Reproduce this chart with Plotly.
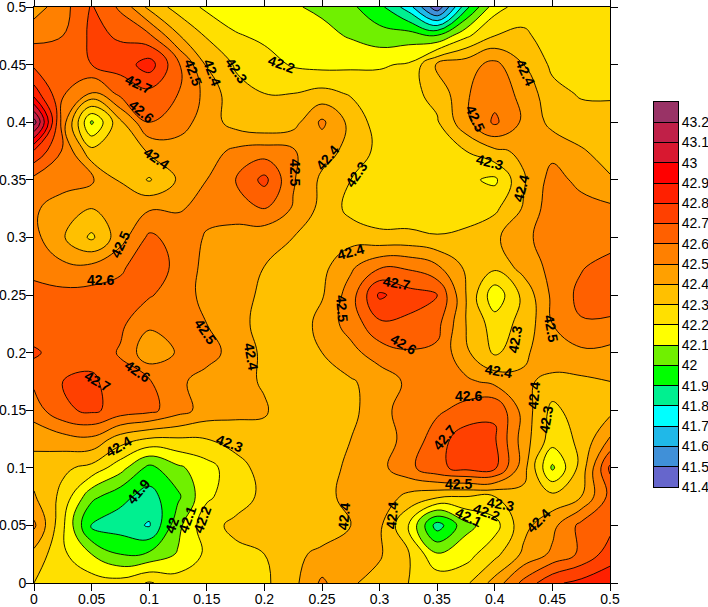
import plotly.graph_objects as go

x_vals = [i * 0.025 for i in range(21)]
y_vals = [i * 0.025 for i in range(21)]

r000 = [42.30,42.26,42.25,42.24,42.31,42.25,42.28,42.26,42.28,42.37,42.52,42.41,42.37,42.30,42.27,42.28,42.44,42.63,42.78,42.83,42.87]
r025 = [42.37,42.22,42.10,42.00,42.02,42.11,42.22,42.28,42.30,42.38,42.42,42.44,42.41,42.31,42.11,42.16,42.27,42.42,42.52,42.62,42.75]
r050 = [42.52,42.22,41.88,41.85,41.79,42.07,42.27,42.32,42.35,42.37,42.35,42.40,42.42,42.20,41.85,42.07,42.16,42.37,42.47,42.63,42.67]
r075 = [42.41,42.27,42.03,41.93,41.86,41.98,42.18,42.26,42.32,42.37,42.36,42.44,42.47,42.37,42.32,42.30,42.30,42.37,42.33,42.40,42.63]
r100 = [42.36,42.32,42.27,42.14,41.97,42.08,42.16,42.26,42.34,42.36,42.34,42.43,42.47,42.57,42.68,42.73,42.72,42.44,42.08,42.34,42.72]
r125 = [42.43,42.46,42.48,42.35,42.29,42.29,42.30,42.34,42.37,42.35,42.36,42.40,42.47,42.52,42.66,42.75,42.71,42.45,42.25,42.32,42.51]
r150 = [42.55,42.68,42.72,42.66,42.63,42.54,42.46,42.43,42.41,42.34,42.34,42.37,42.47,42.54,42.58,42.64,42.69,42.46,42.27,42.36,42.37]
r175 = [42.62,42.70,42.72,42.64,42.61,42.52,42.46,42.43,42.39,42.33,42.36,42.39,42.44,42.52,42.53,42.52,42.47,42.42,42.37,42.38,42.40]
r200 = [42.72,42.64,42.66,42.59,42.43,42.51,42.54,42.46,42.38,42.33,42.40,42.47,42.55,42.59,42.58,42.42,42.28,42.38,42.47,42.48,42.47]
r225 = [42.62,42.63,42.63,42.62,42.52,42.52,42.50,42.43,42.37,42.32,42.44,42.54,42.68,42.68,42.63,42.40,42.25,42.33,42.50,42.59,42.58]
r250 = [42.62,42.63,42.64,42.64,42.61,42.55,42.47,42.42,42.39,42.32,42.39,42.55,42.82,42.74,42.70,42.40,42.13,42.33,42.52,42.63,42.66]
r275 = [42.58,42.52,42.52,42.58,42.67,42.57,42.47,42.44,42.40,42.34,42.37,42.48,42.58,42.58,42.51,42.38,42.33,42.44,42.53,42.59,42.64]
r300 = [42.53,42.41,42.28,42.46,42.62,42.56,42.49,42.45,42.43,42.40,42.33,42.36,42.33,42.33,42.31,42.33,42.38,42.48,42.54,42.58,42.55]
r325 = [42.52,42.43,42.40,42.47,42.49,42.49,42.53,42.56,42.60,42.49,42.37,42.27,42.23,42.23,42.22,42.24,42.28,42.41,42.56,42.54,42.52]
r350 = [42.57,42.56,42.52,42.39,42.29,42.41,42.50,42.60,42.73,42.51,42.38,42.30,42.24,42.23,42.22,42.22,42.18,42.39,42.54,42.47,42.41]
r375 = [42.79,42.59,42.33,42.35,42.41,42.45,42.46,42.52,42.55,42.51,42.44,42.37,42.27,42.25,42.26,42.30,42.38,42.42,42.47,42.41,42.36]
r400 = [43.25,42.55,42.08,42.38,42.60,42.55,42.45,42.36,42.31,42.36,42.52,42.37,42.25,42.24,42.29,42.47,42.62,42.48,42.37,42.34,42.33]
r425 = [42.85,42.61,42.48,42.63,42.67,42.60,42.47,42.33,42.30,42.30,42.33,42.29,42.25,42.27,42.33,42.49,42.56,42.47,42.33,42.29,42.29]
r450 = [42.68,42.64,42.70,42.74,42.85,42.62,42.39,42.29,42.24,42.19,42.17,42.18,42.19,42.21,42.41,42.46,42.53,42.40,42.28,42.24,42.22]
r475 = [42.57,42.60,42.72,42.69,42.62,42.41,42.29,42.21,42.18,42.15,42.13,42.09,42.04,42.05,42.01,42.18,42.30,42.32,42.25,42.23,42.22]
r500 = [42.45,42.56,42.71,42.58,42.37,42.26,42.18,42.14,42.12,42.11,42.08,42.02,41.93,41.75,41.42,41.87,42.16,42.25,42.25,42.25,42.25]
z_rows = [r000,r025,r050,r075,r100,r125,r150,r175,r200,r225,r250,r275,r300,r325,r350,r375,r400,r425,r450,r475,r500]

band_colors = ["#6666CC","#4090D8","#20B8E8","#00FFFF","#00F090","#00FF00","#70F000","#FFFF00","#FFE000","#FFC000",
               "#FFA000","#FF8000","#FF6000","#FF4000","#FF2000","#FF0000","#D81830","#C02048","#993366"]
tick_vals = [0,0.05,0.1,0.15,0.2,0.25,0.3,0.35,0.4,0.45,0.5]
tick_text = ["0","0.05","0.1","0.15","0.2","0.25","0.3","0.35","0.4","0.45","0.5"]
bar_levels = [41.4,41.5,41.6,41.7,41.8,41.9,42.0,42.1,42.2,42.3,42.4,42.5,42.6,42.7,42.8,42.9,43.0,43.1,43.2]
bar_text = ["41.4","41.5","41.6","41.7","41.8","41.9","42","42.1","42.2","42.3","42.4","42.5","42.6","42.7","42.8","42.9","43","43.1","43.2"]

labels = [("42.7",138,84,25),("42.6",141,111,40),("42.5",193,72,70),("42.4",212,72,70),("42.3",236,70,55),("42.2",281,64,20),
          ("42.4",156,158,35),("42.5",295,172,90),("42.4",327,158,-50),("42.3",356,175,-55),("42.4",525,72,65),("42.5",475,118,65),
          ("42.3",489,162,15),("42.4",521,189,-75),("42.5",120,245,-65),("42.6",100,280,0),("42.7",97,381,30),("42.6",137,371,35),
          ("42.5",205,331,55),("42.4",251,356,80),("42.4",350,252,-15),("42.7",396,283,10),("42.5",342,308,85),("42.6",403,344,30),
          ("42.3",515,340,-80),("42.5",551,328,80),("42.4",498,371,10),("42.4",534,396,-85),("42.6",468,396,0),("42.3",546,420,-80),
          ("42.7",444,438,-50),("42.5",458,484,0),("42.3",500,504,10),("42.2",486,512,20),("42.1",468,517,25),("42.4",538,521,-45),
          ("42.4",392,516,-85),("42.4",344,517,-85),("42.4",118,447,-30),("42.3",229,443,20),("41.9",138,492,-50),("42",172,525,-70),
          ("42.1",187,520,-70),("42.2",202,520,-70)]

FONT = "Liberation Sans, Arial, sans-serif"
n = len(band_colors)
# contour fills sample the scale at band centres, which fall on these nodes
fill_scale = [[0, band_colors[0]]] + [[(i + 1) / n, c] for i, c in enumerate(band_colors)]
bar_scale = []
for i, c in enumerate(band_colors):
    bar_scale += [[i / n, c], [(i + 1) / n, c]]

fig = go.Figure()
fig.add_trace(go.Contour(
    x=x_vals, y=y_vals, z=z_rows,
    autocontour=False,
    contours=dict(start=41.4, end=43.2, size=0.1, coloring="fill"),
    colorscale=fill_scale, showscale=False,
    line=dict(color="black", width=0.9, smoothing=1.2),
    hoverinfo="skip",
))
fig.add_trace(go.Heatmap(
    x=[0], y=[v + 0.05 for v in bar_levels], z=[[v + 0.05] for v in bar_levels],
    zmin=41.4, zmax=43.3, colorscale=bar_scale, showscale=False, hoverinfo="skip",
    xaxis="x2", yaxis="y2",
))

annotations = []
for text, px, py, ang in labels:
    annotations.append(dict(x=(px-34)/1152, y=(583-py)/1152, xref="x", yref="y", text=text, showarrow=False,
                            textangle=ang, font=dict(family=FONT, size=14, color="black", weight="bold")))

axis = dict(range=[0,0.5], tickmode="array", tickvals=tick_vals, ticktext=tick_text, ticks="outside", ticklen=7, tickwidth=1,
            tickcolor="black", showline=True, linecolor="black", linewidth=1, mirror="ticks", showgrid=False, zeroline=False,
            automargin=False, ticklabeloverflow="allow", tickfont=dict(family=FONT, size=14, color="black"))
W, H = 708, 607
L, R, T, B = 34, 610, 7, 583
fig.update_layout(
    width=W, height=H, autosize=False, margin=dict(l=0, r=0, t=0, b=0),
    paper_bgcolor="white", plot_bgcolor="white", annotations=annotations, showlegend=False,
    xaxis=dict(axis, domain=[L/W, R/W], ticklabelstandoff=-4),
    yaxis=dict(axis, domain=[1-B/H, 1-T/H], ticklabelstandoff=-3),
    xaxis2=dict(domain=[654/W, 678/W], anchor="y2", range=[-0.5, 0.5], showticklabels=False, ticks="", showgrid=False,
                zeroline=False, showline=True, linecolor="black", linewidth=1, mirror=True, automargin=False),
    yaxis2=dict(domain=[1-487/H, 1-102/H], anchor="x2", side="right", range=[41.4, 43.3], tickmode="array",
                tickvals=bar_levels, ticktext=bar_text, ticks="inside", ticklen=24, tickwidth=1, tickcolor="black",
                showgrid=False, zeroline=False, showline=True, linecolor="black", linewidth=1, mirror=True, automargin=False,
                ticklabeloverflow="allow", tickfont=dict(family=FONT, size=14, color="black")),
)
fig.write_html("out.html", config={"displayModeBar": False},
               post_script="document.body.style.margin='0';document.body.style.overflow='hidden';")
